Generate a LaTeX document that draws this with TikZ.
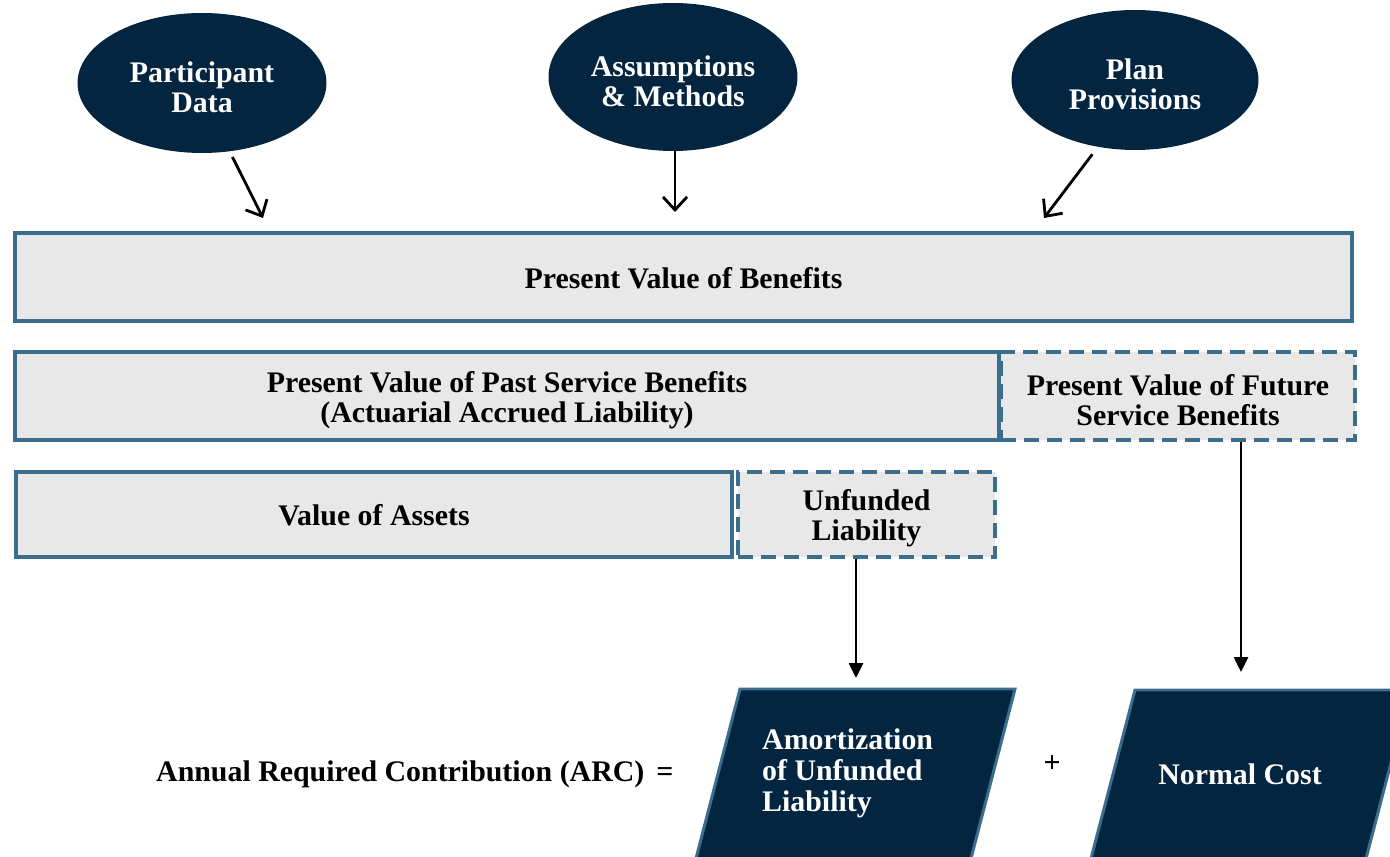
\documentclass[tikz,border=0pt]{standalone}
\usepackage{fontspec}
\usepackage{xcolor}
\usepackage{tikz}
\usetikzlibrary{shapes.geometric}
\usetikzlibrary{arrows.meta,arrows}
\setmainfont{Liberation Serif}
\definecolor{navy}{RGB}{3,37,63}
\definecolor{steel}{RGB}{59,109,140}
\definecolor{panel}{RGB}{232,232,232}
\newcommand{\labelfont}{\bfseries\fontsize{17}{17}\selectfont}
\newcommand{\topstrut}{\rule{0pt}{16.5pt}}
\tikzset{
  source/.style={ellipse, fill=navy, text=white, minimum width=4.98cm, minimum height=2.8cm, align=center, font=\labelfont},
  valuebox/.style={rectangle, draw=steel, fill=panel, line width=2.2pt, align=center, font=\labelfont, inner sep=0pt},
  dashbox/.style={valuebox, line width=2pt, dash pattern=on 0.3cm off 0.16cm},
  costbox/.style={fill=navy, draw=steel, line width=1.7pt},
  inarrow/.style={line width=1.6pt, -{Straight Barb[length=2.6mm,width=4.8mm]}},
  outarrow/.style={line width=1.5pt, -{Triangle[length=3mm,width=2.8mm]}},
}

\begin{document}
\begin{tikzpicture}[x=0.02cm, y=-0.02cm]
\useasboundingbox (0,0) rectangle (1390,857);
\clip (0,0) rectangle (1390,857);

% inputs
\node[source] (pd) at (202,83) {\topstrut Participant\\Data};
\node[source, minimum height=2.96cm] (am) at (673,77) {\topstrut Assumptions\\\& Methods};
\node[source, minimum width=4.94cm] (pp) at (1135,80) {\topstrut Plan\\Provisions};

% liability blocks
\node[valuebox, minimum width=26.74cm, minimum height=1.76cm] (pvb) at (683.5,277) {\rule{0pt}{13pt}Present Value of Benefits};
\node[dashbox, minimum width=7.08cm, minimum height=1.76cm] (fut) at (1178,396) {\topstrut Present Value of Future\\Service Benefits};
\node[valuebox, minimum width=19.68cm, minimum height=1.76cm] (past) at (507,396) {\topstrut Present Value of Past Service Benefits\\(Actuarial Accrued Liability)};
\node[dashbox, minimum width=5.14cm, minimum height=1.70cm] (unf) at (866.5,514.5) {\topstrut Unfunded\\Liability};
\node[valuebox, minimum width=14.32cm, minimum height=1.70cm] (assets) at (374,514.5) {\rule{0pt}{13pt}Value of Assets};

\coordinate (pd-in) at (263,218);
\coordinate (am-in) at (675,212);
\coordinate (pp-in) at (1044,218);
\draw[inarrow, shorten <=0.12cm] (pd.292) -- (pd-in);
\draw[inarrow] (am.south -| am-in) -- (am-in);
\draw[inarrow, shorten <=0.18cm] (pp.241) -- (pp-in);

% contribution
\draw[costbox] (740,689) -- (1015,689) -- (968,870) -- (693,870) -- cycle;
\draw[costbox] (1135,690) -- (1410,690) -- (1363,870) -- (1088,870) -- cycle;
\node[anchor=west, align=left, text=white, font=\bfseries\fontsize{17}{17.6}\selectfont] (amz) at (756,773) {Amortization\\of Unfunded\\Liability};
\node[text=white, font=\labelfont] (nc) at (1240,774) {Normal Cost};
\node[anchor=west, font=\labelfont] (arc) at (150,774) {Annual Required Contribution (ARC)\hspace{0.15em} =};
\node[font=\labelfont] (plus) at (1052,764) {+};

\coordinate (amz-in) at (856,678);
\coordinate (nc-in) at (1241,672);
\draw[outarrow] (unf.south -| amz-in) -- (amz-in);
\draw[outarrow] (fut.south -| nc-in) -- (nc-in);
\end{tikzpicture}
\end{document}
